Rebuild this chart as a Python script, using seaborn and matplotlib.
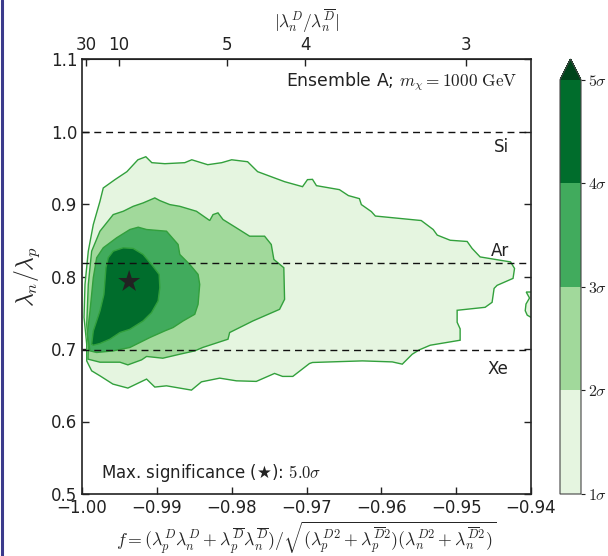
import numpy as np
import pandas as pd
import matplotlib
matplotlib.use("Agg")
import matplotlib.pyplot as plt
import seaborn as sns
from matplotlib.colors import ListedColormap, BoundaryNorm
from matplotlib.cm import ScalarMappable
from matplotlib.lines import Line2D

# ---------------- data ----------------
sig_levels = [1, 2, 3, 4, 5]
sig_labels = [r"$1\sigma$", r"$2\sigma$", r"$3\sigma$", r"$4\sigma$", r"$5\sigma$"]
band_colors = ["#e5f5e0", "#a1d99b", "#41ab5d", "#006d2c"]
over_color = "#00441b"

# 1 sigma region outline (f, lambda_n/lambda_p)
sig1_f = [-0.99937, -0.99973, -0.99960, -0.99916, -0.99849, -0.99760, -0.99716, -0.99560,
          -0.99400, -0.99253, -0.99147, -0.99067, -0.98893, -0.98627, -0.98533, -0.98320,
          -0.98133, -0.98000, -0.97787, -0.97653, -0.97293, -0.97053, -0.96987, -0.96920,
          -0.96867, -0.96560, -0.96440, -0.96293, -0.96267, -0.96133, -0.96080, -0.95467,
          -0.95307, -0.95253, -0.95080, -0.94853, -0.94787, -0.94680, -0.94273, -0.94220,
          -0.94240, -0.94453, -0.94493, -0.94520, -0.94613, -0.94987, -0.94987, -0.94947,
          -0.94947, -0.95347, -0.95493, -0.95587, -0.95720, -0.95853, -0.96253, -0.96920,
          -0.96960, -0.97183, -0.97320, -0.97427, -0.97671, -0.97937, -0.98160, -0.98404,
          -0.98537, -0.98871, -0.99027, -0.99137, -0.99387, -0.99587, -0.99760, -0.99871,
          -0.99937]
sig1_y = [0.7066, 0.7437, 0.7891, 0.8349, 0.8717, 0.9037, 0.9221, 0.9336,
          0.9446, 0.9610, 0.9652, 0.9570, 0.9556, 0.9570, 0.9610, 0.9542,
          0.9570, 0.9610, 0.9583, 0.9446, 0.9308, 0.9239, 0.9336, 0.9340,
          0.9253, 0.9198, 0.9116, 0.9074, 0.8992, 0.8895, 0.8834, 0.8772,
          0.8648, 0.8571, 0.8500, 0.8483, 0.8387, 0.8270, 0.8201, 0.8111,
          0.7974, 0.7878, 0.7836, 0.7644, 0.7575, 0.7534, 0.7369, 0.7278,
          0.7121, 0.7052, 0.6988, 0.6928, 0.6791, 0.6822, 0.6836, 0.6814,
          0.6800, 0.6622, 0.6622, 0.6663, 0.6553, 0.6561, 0.6598, 0.6547,
          0.6433, 0.6492, 0.6475, 0.6585, 0.6461, 0.6516, 0.6630, 0.6699,
          0.6836]

# small 1 sigma island at the right edge
island_f = [-0.9390, -0.94064, -0.94020, -0.94067, -0.94077, -0.94050, -0.94000, -0.9390]
island_y = [0.7786, 0.7786, 0.7703, 0.7620, 0.7528, 0.7466, 0.7437, 0.7437]

sig2_f = [-0.99916, -0.99937, -0.99916, -0.99871, -0.99760, -0.99583, -0.99449, -0.99316,
          -0.99183, -0.99027, -0.98960, -0.98827, -0.98693, -0.98471, -0.98293, -0.98249,
          -0.98183, -0.98116, -0.97937, -0.97760, -0.97560, -0.97471, -0.97436, -0.97303,
          -0.97293, -0.97360, -0.97716, -0.98027, -0.98049, -0.98387, -0.98493, -0.98693,
          -0.98920, -0.99137, -0.99204, -0.99387, -0.99493, -0.99760, -0.99920]
sig2_y = [0.7021, 0.7341, 0.7891, 0.8349, 0.8625, 0.8854, 0.8900, 0.8968,
          0.9015, 0.9084, 0.9047, 0.8992, 0.8968, 0.8900, 0.8772, 0.8854,
          0.8878, 0.8786, 0.8671, 0.8556, 0.8556, 0.8442, 0.8235, 0.8121,
          0.7685, 0.7547, 0.7387, 0.7227, 0.7135, 0.7021, 0.6974, 0.6928,
          0.6873, 0.6897, 0.6850, 0.6781, 0.6818, 0.6818, 0.6860]

sig3_f = [-0.99929, -0.99893, -0.99849, -0.99804, -0.99716, -0.99537, -0.99360, -0.99249,
          -0.99137, -0.98871, -0.98716, -0.98693, -0.98560, -0.98449, -0.98427, -0.98449,
          -0.98493, -0.98649, -0.98783, -0.98893, -0.99093, -0.99360, -0.99583, -0.99804,
          -0.99893]
sig3_y = [0.7204, 0.7524, 0.7984, 0.8259, 0.8396, 0.8534, 0.8648, 0.8680,
          0.8648, 0.8625, 0.8442, 0.8304, 0.8166, 0.8029, 0.7891, 0.7616,
          0.7479, 0.7387, 0.7296, 0.7250, 0.7158, 0.7021, 0.6974, 0.6952,
          0.6974]

sig4_f = [-0.99871, -0.99849, -0.99760, -0.99707, -0.99680, -0.99649, -0.99583, -0.99449,
          -0.99316, -0.99183, -0.99071, -0.98969, -0.98960, -0.98983, -0.99071, -0.99183,
          -0.99360, -0.99493, -0.99627, -0.99760, -0.99849]
sig4_y = [0.7066, 0.7249, 0.7524, 0.7754, 0.8121, 0.8259, 0.8349, 0.8396,
          0.8387, 0.8304, 0.8166, 0.8029, 0.7846, 0.7662, 0.7502, 0.7387,
          0.7272, 0.7227, 0.7135, 0.7076, 0.7052]

best_f = [-0.9937]
best_y = [0.793]
best_sig = 5.0

target_names = ["Si", "Ar", "Xe"]
target_ratio = [1.0, 0.818, 0.698]

x_ticks = [-1.00, -0.99, -0.98, -0.97, -0.96, -0.95, -0.94]
y_ticks = [0.5, 0.6, 0.7, 0.8, 0.9, 1.0, 1.1]
top_vals = [30, 10, 5, 4, 3]

# ---------------- style ----------------
sns.set_style("ticks")
plt.rcParams["font.family"] = ["DejaVu Sans"]
plt.rcParams["mathtext.fontset"] = "cm"
plt.rcParams["font.size"] = 12

fig = plt.figure(figsize=(6.08, 5.56), dpi=100)
ax = fig.add_axes([82 / 608, 62 / 556, 449 / 608, 435 / 556])

line_col = "#32a03c"
regions = [(sig1_f, sig1_y, band_colors[0]),
           (island_f, island_y, band_colors[0]),
           (sig2_f, sig2_y, band_colors[1]),
           (sig3_f, sig3_y, band_colors[2]),
           (sig4_f, sig4_y, band_colors[3])]
for fx, fy, c in regions:
    ax.fill(fx, fy, facecolor=c, edgecolor=line_col, linewidth=1.0, zorder=2)

# target lines
for name, r in zip(target_names, target_ratio):
    ax.axhline(r, color="#111111", lw=1.0, dashes=(5, 3.5), zorder=3)
ax.text(-0.9440, 0.978, "Si", ha="center", va="center", fontsize=12, color="#222222")
ax.text(-0.9441, 0.835, "Ar", ha="center", va="center", fontsize=12, color="#222222")
ax.text(-0.9444, 0.672, "Xe", ha="center", va="center", fontsize=12, color="#222222")

star_df = pd.DataFrame({"f": best_f, "r": best_y})
sns.scatterplot(data=star_df, x="f", y="r", marker="*", s=280, color="#222222",
                edgecolor="none", ax=ax, zorder=5, legend=False)

ax.set_xlim(-1.0, -0.94)
ax.set_ylim(0.5, 1.1)
ax.set_xticks(x_ticks)
ax.set_xticklabels([f"{v:.2f}".replace("-", "\u2212") for v in x_ticks])
ax.set_yticks(y_ticks)
ax.set_yticklabels([f"{v:.1f}" for v in y_ticks])
ax.tick_params(axis="both", direction="in", length=5, width=1, labelsize=12,
               colors="#222222")
ax.tick_params(axis="y", right=True, left=True)
ax.tick_params(axis="x", top=False, bottom=True)
for s in ax.spines.values():
    s.set_linewidth(1.2)
    s.set_color("#222222")

ax.set_ylabel(r"$\lambda_n/\lambda_p$", fontsize=17, labelpad=6)
ax.set_xlabel(r"$f = (\lambda_p^D\lambda_n^D + \lambda_p^{\overline{D}}\lambda_n^{\overline{D}})"
              r"/\sqrt{(\lambda_p^{D2}+\lambda_p^{\overline{D}2})(\lambda_n^{D2}+\lambda_n^{\overline{D}2})}$",
              fontsize=12.8, labelpad=2)

# top axis: |lambda_n^D / lambda_n^Dbar|
top_pos = [-r / np.sqrt(1 + r ** 2) for r in top_vals]
secax = ax.secondary_xaxis("top")
secax.set_xticks(top_pos)
secax.set_xticklabels([str(v) for v in top_vals])
secax.tick_params(direction="in", length=5, width=1, labelsize=12, colors="#222222")
secax.set_xlabel(r"$|\lambda_n^D/\lambda_n^{\overline{D}}|$", fontsize=12.5, labelpad=6)

ax.text(0.969, 0.947, r"Ensemble A; $m_\chi = 1000\ \mathrm{GeV}$", transform=ax.transAxes,
        ha="right", va="center", fontsize=12.4, color="#222222")
ax.text(0.042, 0.048, "Max. significance (\u2605): " + r"$%.1f\sigma$" % best_sig,
        transform=ax.transAxes, ha="left", va="center", fontsize=12, color="#222222")

# colorbar
cax = fig.add_axes([560 / 608, 62 / 556, 21 / 608, 435 / 556])
cmap = ListedColormap(band_colors)
cmap.set_over(over_color)
norm = BoundaryNorm(sig_levels, cmap.N)
cb = fig.colorbar(ScalarMappable(norm=norm, cmap=cmap), cax=cax, extend="max",
                  ticks=sig_levels)
cb.set_ticklabels(sig_labels)
cb.ax.tick_params(direction="out", length=3, width=0.8, pad=2, labelsize=11.5,
                  colors="#222222")
cb.outline.set_edgecolor("#444444")
cb.outline.set_linewidth(0.8)

# page border line at the left edge
fig.add_artist(Line2D([0.0035, 0.0035], [0, 1], color="#3b3b8c", lw=2.2,
                      transform=fig.transFigure))

fig.savefig("out.png", dpi=100)
